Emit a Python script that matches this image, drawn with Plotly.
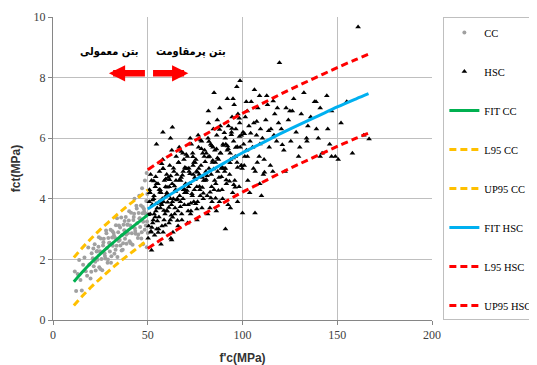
import plotly.graph_objects as go

# ---------------- data ----------------
# Conventional concrete (CC) points
cc_fc_a = [11.5, 12.2, 13, 13.8, 14.5, 15.2, 15.9, 16.6, 17.3, 18,
           18.6, 19.2, 19.8, 20.4, 21, 21.5, 22, 22.5, 23, 23.5,
           24, 24.4, 24.8, 25.2, 25.6, 26, 26.4, 26.8, 27.2, 27.6,
           28, 28.4, 28.8, 29.2, 29.6, 30, 30.4, 30.8, 31.2, 31.6,
           32, 32.4, 32.8, 33.2, 33.6, 34, 34.4, 34.8, 35.2, 35.6,
           36, 36.4, 36.8, 37.2, 37.6, 38, 38.4, 38.8, 39.2, 39.6,
           40, 40.4, 40.8, 41.2, 41.6, 42, 42.4, 42.8, 43.2, 43.6,
           44, 44.4, 44.8, 45.2, 45.6, 46, 46.4, 46.8, 47.2, 47.6,
           48, 48.4, 48.8, 49.2, 49.6, 50]
cc_fct_a = [1.60, 0.96, 1.52, 1.98, 1.32, 0.97, 1.82, 2.06, 1.61, 1.46,
            2.39, 1.83, 1.37, 2.20, 2.04, 1.77, 2.50, 1.63, 2.26, 1.99,
            2.42, 1.74, 2.27, 2.69, 2.01, 1.64, 2.46, 2.68, 2.20, 2.03,
            2.95, 2.37, 1.89, 2.71, 2.54, 2.26, 2.98, 2.10, 2.72, 2.45,
            2.87, 2.19, 2.71, 3.13, 2.45, 2.08, 2.90, 3.12, 2.64, 2.46,
            3.38, 2.80, 2.32, 3.14, 2.96, 2.68, 3.40, 2.52, 3.14, 2.86,
            3.28, 2.60, 3.12, 3.54, 2.86, 2.48, 3.30, 3.51, 3.03, 2.85,
            3.77, 3.19, 2.71, 3.53, 3.35, 3.07, 3.78, 2.90, 3.52, 3.24,
            3.66, 2.98, 3.51, 3.93, 3.25, 2.87]
cc_fc_b = [20.2, 21.3, 22.3, 23.3, 24.2, 25, 25.9, 26.6, 27.4, 28.2,
           29, 29.8, 30.6, 31.4, 32.2, 33, 33.8, 34.6, 35.4, 36.2,
           37, 37.8, 38.6, 39.4, 40.2, 41, 41.8, 42.6, 43.4, 44.2,
           45, 45.8, 46.6, 47.4, 48.2, 49, 49.8,
           49.4, 47, 45.5, 43, 48.5, 49.5, 47.5]
cc_fct_b = [1.59, 2.36, 1.92, 2.28, 2.73, 1.68, 2.23, 2.57, 2.11, 2.86,
            2.00, 2.55, 1.89, 2.93, 2.78, 2.32, 3.36, 2.61, 3.05, 2.29,
            2.53, 3.27, 2.81, 3.15, 3.59, 2.53, 3.07, 3.40, 2.94, 3.68,
            2.82, 3.36, 2.69, 3.73, 3.57, 3.12, 4.16,
            4.85, 4.35, 4.10, 4.00, 4.60, 2.40, 2.50]

# High strength concrete (HSC) points
hsc_fc_a = [50.5, 51, 51.3, 51.8, 52, 52.4, 52.9, 53.1, 53.6, 54,
            54.3, 54.8, 50.8, 51.5, 52.6, 53.3, 53.9, 54.6, 55, 50.2,
            55.4, 55.9, 56.2, 56.7, 57, 57.5, 57.9, 58.3, 58.8, 59.1,
            59.6, 60, 55.7, 56.5, 57.3, 58, 58.6, 59.4, 56, 57.7, 58.1, 59.8,
            60.3, 60.8, 61.2, 61.6, 62, 62.5, 62.9, 63.3, 63.8, 64.2,
            64.7, 65, 60.6, 61.9, 62.7, 63.5, 64.4, 61.4, 63, 64.9, 62.2, 60.1,
            65.4, 65.9, 66.3, 66.8, 67.2, 67.6, 68, 68.5, 68.9, 69.3,
            69.8, 70, 65.6, 66.6, 67.9, 68.7, 69.5, 66, 67.4, 69.1,
            70.4, 70.9, 71.3, 71.8, 72.2, 72.6, 73, 73.5, 73.9, 74.3,
            74.8, 70.6, 71.6, 72.8, 73.7, 74.6, 71, 72.4, 74, 75,
            75.4, 75.9, 76.3, 76.8, 77.2, 77.7, 78.1, 78.6, 79, 79.5,
            75.7, 76.6, 77.5, 78.4, 79.3, 76, 78.9, 80,
            80.4, 80.9, 81.4, 81.8, 82.3, 82.8, 83.2, 83.7, 84.1, 84.6,
            80.7, 81.6, 82.6, 83.5, 84.4, 85, 82, 83.9,
            85.4, 85.9, 86.4, 86.9, 87.3, 87.8, 88.3, 88.8, 89.2, 89.7,
            85.7, 86.7, 87.6, 88.5, 89.5, 86.2,
            90.3, 90.9, 91.5, 92, 92.6, 93.2, 93.7, 94.2, 94.8, 91.2,
            92.4, 93.5, 94.5, 90.6,
            95.3, 95.9, 96.5, 97.1, 97.6, 98.2, 98.8, 99.4, 96.2, 97.4,
            98.5, 99.8, 95.6]
hsc_fct_a = [3.1, 4.2, 3.5, 2.9, 4.6, 3.8, 3.3, 4.0, 2.8, 4.4,
             3.6, 3.0, 3.9, 4.8, 3.2, 4.1, 3.4, 4.5, 3.7, 2.7,
             4.5, 3.4, 4.9, 3.7, 4.2, 3.1, 5.3, 3.9, 4.6, 3.5,
             4.1, 4.8, 3.0, 4.3, 3.8, 5.0, 3.3, 4.4, 3.9, 4.0, 2.9, 3.6,
             3.6, 4.7, 3.2, 5.1, 4.0, 3.8, 4.5, 2.9, 4.9, 3.5,
             4.3, 5.4, 4.1, 3.3, 5.6, 4.0, 3.7, 4.4, 3.9, 4.6, 2.7, 4.2,
             4.8, 3.6, 5.2, 4.1, 3.9, 4.7, 3.3, 5.5, 4.3, 3.8,
             5.0, 4.5, 4.0, 5.7, 3.5, 4.9, 4.2, 3.1, 4.6, 5.3,
             4.2, 5.4, 3.8, 4.9, 4.5, 3.5, 5.8, 4.1, 5.1, 3.9,
             4.7, 5.0, 4.4, 3.6, 5.5, 4.3, 3.2, 6.0, 4.8, 5.2,
             5.3, 4.4, 3.9, 5.7, 4.8, 4.1, 5.1, 3.7, 5.5, 4.6,
             4.9, 6.1, 4.3, 5.9, 4.0, 3.3, 4.7, 5.6,
             4.6, 5.5, 4.1, 6.0, 5.0, 3.7, 5.8, 4.4, 5.2, 6.3,
             4.9, 3.5, 5.4, 4.8, 5.7, 4.3, 6.5, 3.9,
             5.6, 4.5, 6.1, 4.9, 5.3, 3.9, 6.4, 5.0, 4.3, 5.8,
             5.2, 6.6, 4.7, 5.5, 4.0, 3.6,
             5.0, 6.0, 4.5, 5.6, 6.4, 4.8, 5.3, 6.2, 4.2, 5.8,
             3.8, 5.5, 6.7, 4.9,
             5.9, 4.6, 6.3, 5.2, 6.8, 4.4, 5.7, 6.1, 5.4, 3.9,
             6.5, 5.0, 7.1]
hsc_fc_b = [100.3, 100.9, 101.5, 102.1, 102.8, 103.4, 104, 104.6, 101.2, 102.5,
            103.8, 100.6,
            105.3, 106, 106.7, 107.4, 108.1, 108.8, 109.5, 106.3, 107.8, 109.1,
            110.5, 111.4, 112.3, 113.2, 114.1, 115, 116, 117, 118, 119,
            112.8, 114.7, 116.6, 118.4, 111, 119.5,
            120.5, 121.8, 123, 124.2, 125.5, 127, 128.3, 129.6, 131, 132.4,
            133.8, 122.5, 126.3, 130.2, 134.5,
            136, 138, 140, 142, 144.5, 147, 149, 152, 155, 158,
            161, 164, 166.8, 141, 146, 139]
hsc_fct_b = [6.2, 5.1, 6.7, 5.6, 4.6, 6.4, 5.9, 7.2, 5.4, 6.9,
             4.2, 5.8,
             5.7, 6.5, 4.9, 6.1, 7.0, 5.4, 6.3, 7.6, 5.2, 4.5,
             6.0, 5.3, 6.6, 7.1, 5.7, 6.3, 4.9, 6.8, 5.9, 6.5,
             7.4, 5.1, 6.1, 7.0, 4.8, 8.49,
             6.3, 5.6, 7.0, 6.6, 5.9, 7.3, 6.2, 5.4, 6.8, 7.5,
             6.0, 4.9, 6.9, 5.7, 6.4,
             6.7, 7.2, 6.0, 5.5, 7.4, 6.9, 5.4, 6.5, 7.2, 5.5,
             9.67, 6.1, 5.97, 7.0, 5.8, 6.3]
hsc_fc_c = [50.9, 51.7, 52.5, 53.4, 54.2, 55.1, 56.1, 57.1, 58.2, 59.2,
            60.2, 61.1, 62.1, 63.1, 64.1, 65.2, 66.2, 67.2, 68.3, 69.3,
            70.3, 71.3, 72.3, 73.3, 74.3, 75.3, 76.3, 77.3, 78.3, 79.3,
            80.3, 81.3, 82.3, 83.3, 84.3, 85.3, 86.3, 87.3, 88.3, 89.3,
            90.4, 91.4, 92.4, 93.4, 94.4, 95.4, 96.4, 97.4, 98.4, 99.4,
            54.6, 58, 62, 63, 62.6, 57, 52, 106.6, 100, 110,
            93.6, 91, 138.8, 145, 141, 147, 150.5, 134, 88, 95,
            98.7, 97, 85, 92, 109, 102, 82]
hsc_fct_c = [4.30, 2.93, 3.96, 3.50, 4.73, 3.27, 4.31, 3.85, 4.99, 3.13,
             4.38, 3.71, 4.75, 3.39, 4.42, 3.96, 5.20, 3.74, 4.78, 4.32,
             5.46, 3.60, 4.83, 4.17, 5.20, 3.84, 4.88, 4.41, 5.65, 4.18,
             5.22, 4.76, 5.89, 4.03, 5.26, 4.60, 5.64, 4.27, 5.51, 5.04,
             6.18, 4.62, 5.65, 5.19, 6.32, 4.46, 5.69, 5.03, 6.06, 5.10,
             5.8, 6.2, 6.0, 6.36, 2.64, 2.5, 2.3, 3.53, 3.53, 4.1,
             3.7, 3.0, 7.2, 6.3, 5.4, 5.4, 5.3, 5.9, 7.0, 7.3,
             7.9, 7.7, 7.5, 7.3, 7.4, 7.2, 6.9]
hsc_fc_d = [50.3, 51.2, 52.2, 53.2, 54.4, 55.5, 56.4, 57.4, 58.5, 59.5,
            60.5, 61.5, 62.4, 63.6, 64.6, 65.7, 66.7, 67.7, 68.6, 69.6,
            70.7, 71.7, 72.7, 73.8, 74.9, 75.9, 76.9, 77.9, 78.8, 79.8,
            80.8, 81.9, 82.9, 83.8, 84.8, 85.8, 86.8, 87.9, 88.9, 89.9,
            91, 92.1, 93.1, 94.1, 95.1, 96.1, 97.2, 98.3, 99.3, 101,
            102.6, 104.3, 105.8, 107.5, 109.2, 111.6, 113.8, 116.2, 121, 125]
hsc_fct_d = [3.47, 4.21, 3.05, 4.59, 3.84, 2.89, 4.22, 5.16, 3.61, 4.65,
             3.89, 4.63, 3.46, 5.01, 4.24, 3.28, 4.62, 5.56, 4.00, 5.03,
             4.27, 5.01, 3.85, 5.39, 4.63, 3.66, 5.00, 5.94, 4.37, 5.40,
             4.64, 5.38, 4.22, 5.75, 4.98, 4.02, 5.35, 6.29, 4.73, 5.76,
             5.00, 5.74, 4.58, 6.11, 5.35, 4.38, 5.72, 6.66, 5.10, 6.15,
             5.40, 6.16, 5.00, 6.55, 5.81, 4.88, 6.25, 7.23, 5.78, 6.90]

# Fitted curves and 95% bands
cc_fit_x = [11, 15, 20, 25, 30, 35, 40, 45, 50]
cc_fit_y = [1.26, 1.55, 1.88, 2.18, 2.46, 2.73, 2.98, 3.22, 3.47]
cc_l95_y = [0.48, 0.76, 1.08, 1.37, 1.65, 1.91, 2.16, 2.40, 2.65]
cc_u95_y = [2.06, 2.35, 2.68, 2.99, 3.27, 3.54, 3.80, 4.04, 4.29]
hsc_fit_x = [50, 60, 70, 80, 90, 100, 110, 120, 130, 140, 150, 160, 166.5]
hsc_fit_y = [3.66, 4.07, 4.45, 4.81, 5.17, 5.52, 5.83, 6.15, 6.45, 6.74, 7.03, 7.30, 7.47]
hsc_l95_y = [2.36, 2.77, 3.15, 3.51, 3.87, 4.22, 4.53, 4.85, 5.15, 5.44, 5.73, 6.00, 6.17]
hsc_u95_y = [4.96, 5.37, 5.75, 6.11, 6.47, 6.82, 7.13, 7.45, 7.75, 8.04, 8.33, 8.60, 8.77]

x_ticks = [0, 50, 100, 150, 200]
y_ticks = [0, 2, 4, 6, 8, 10]
label_normal = "بتن معمولی"
label_hsc = "بتن پرمقاومت"

# ---------------- figure ----------------
fig = go.Figure()
fig.add_trace(go.Scatter(x=cc_fc_a + cc_fc_b, y=cc_fct_a + cc_fct_b, mode="markers",
                         name="CC", legendgroup="g1",
                         marker=dict(symbol="circle", size=4, color="#A0A0A0")))
fig.add_trace(go.Scatter(x=hsc_fc_a + hsc_fc_b + hsc_fc_c + hsc_fc_d,
                         y=hsc_fct_a + hsc_fct_b + hsc_fct_c + hsc_fct_d,
                         mode="markers", name="HSC", legendgroup="g2",
                         marker=dict(symbol="triangle-up", size=5, color="#000000")))

line_specs = [
    ("FIT CC", cc_fit_x, cc_fit_y, "#00B050", "solid"),
    ("L95 CC", cc_fit_x, cc_l95_y, "#FFC000", "7px,4px"),
    ("UP95 CC", cc_fit_x, cc_u95_y, "#FFC000", "7px,4px"),
    ("FIT HSC", hsc_fit_x, hsc_fit_y, "#00B0F0", "solid"),
    ("L95 HSC", hsc_fit_x, hsc_l95_y, "#FF0000", "7px,4px"),
    ("UP95 HSC", hsc_fit_x, hsc_u95_y, "#FF0000", "7px,4px"),
]
for i, (nm, xs, ys, col, dash) in enumerate(line_specs):
    fig.add_trace(go.Scatter(x=xs, y=ys, mode="lines", name=nm, legendgroup=f"l{i}",
                             line=dict(color=col, width=3, dash=dash, shape="spline")))

# Arrows and labels
arrow_y = 8.14
fig.add_annotation(x=29.5, y=arrow_y, ax=49.3, ay=arrow_y, xref="x", yref="y",
                   axref="x", ayref="y", text="", showarrow=True,
                   arrowhead=2, arrowsize=0.5, arrowwidth=6.5, arrowcolor="#FF0000")
fig.add_annotation(x=71.4, y=arrow_y, ax=52.0, ay=arrow_y, xref="x", yref="y",
                   axref="x", ayref="y", text="", showarrow=True,
                   arrowhead=2, arrowsize=0.5, arrowwidth=6.5, arrowcolor="#FF0000")
fig.add_annotation(x=29.8, y=8.85, xref="x", yref="y", text="<b>" + label_normal + "</b>",
                   showarrow=False,
                   font=dict(family="DejaVu Sans Condensed", size=11, color="#000000"))
fig.add_annotation(x=73.0, y=8.85, xref="x", yref="y", text="<b>" + label_hsc + "</b>",
                   showarrow=False,
                   font=dict(family="DejaVu Sans Condensed", size=11, color="#000000"))

axis_common = dict(showgrid=True, gridcolor="#BFBFBF", gridwidth=1, showline=True,
                   linecolor="#868686", linewidth=1, ticks="outside", ticklen=4,
                   tickcolor="#868686", zeroline=False,
                   tickfont=dict(family="Liberation Serif", size=12, color="#404040"))
fig.update_xaxes(range=[0, 200], tickvals=x_ticks,
                 title=dict(text="<b>f'c(MPa)</b>", standoff=12,
                            font=dict(family="Liberation Sans", size=12, color="#333333")),
                 **axis_common)
fig.update_yaxes(range=[0, 10], tickvals=y_ticks,
                 title=dict(text="<b>fct(MPa)</b>", standoff=10,
                            font=dict(family="Liberation Sans", size=12, color="#333333")),
                 **axis_common)

# The page body has an 8px default margin, so the figure is 8px smaller
# than the window and margins are reduced by 8px on the left/top.
fig.update_layout(
    width=529, height=357,
    margin=dict(l=45, r=105, t=9, b=45, autoexpand=False),
    paper_bgcolor="white", plot_bgcolor="white",
    showlegend=True,
    legend=dict(x=1.03, y=1, xanchor="left", yanchor="top",
                bordercolor="#BFBFBF", borderwidth=1, bgcolor="white",
                font=dict(family="Liberation Serif", size=10.5, color="#000000"),
                tracegroupgap=20, itemwidth=30),
)

fig.write_html("out.html")
